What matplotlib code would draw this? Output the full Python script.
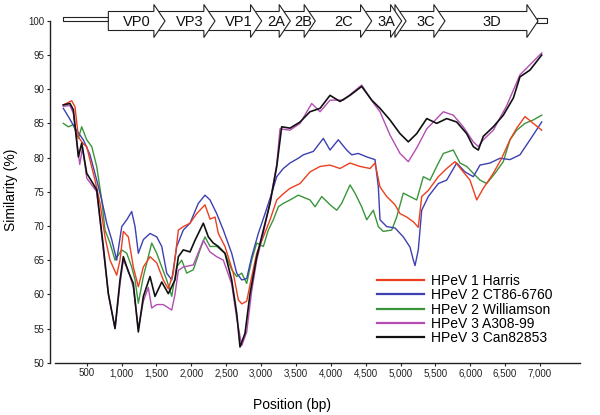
import matplotlib
matplotlib.use('Agg')
import matplotlib.pyplot as plt
from matplotlib.patches import Polygon
from matplotlib.lines import Line2D
from matplotlib.ticker import FuncFormatter

plt.rcParams['font.family'] = ['Liberation Sans', 'DejaVu Sans']

# ---------------- data ----------------
harris_x = [164, 285, 332, 380, 451, 500, 547, 619, 691, 762, 834, 930, 977, 1025, 1097, 1168, 1240, 1312,
            1408, 1504, 1598, 1670, 1742, 1814, 1885, 1981, 2077, 2196, 2268, 2340, 2387, 2483, 2602, 2674,
            2723, 2794, 2866, 2938, 3033, 3129, 3225, 3319, 3415, 3559, 3702, 3846, 3989, 4132, 4276, 4419,
            4563, 4634, 4706, 4802, 4921, 4993, 5089, 5184, 5255, 5304, 5399, 5542, 5662, 5781, 5900, 5996,
            6093, 6187, 6331, 6451, 6570, 6666, 6785, 6904, 7025]
harris_y = [87.7, 88.3, 87.4, 83.0, 82.0, 81.6, 79.6, 76.7, 73.3, 68.4, 65.0, 62.8, 65.0, 69.2, 68.4, 64.0, 61.1, 64.0,
            65.5, 64.6, 62.1, 60.8, 63.1, 69.4, 69.9, 70.4, 71.8, 73.1, 71.0, 71.3, 68.9, 67.0, 63.1, 59.2,
            58.6, 59.0, 62.6, 66.0, 68.4, 70.9, 73.8, 74.7, 75.5, 76.2, 77.9, 78.7, 78.9, 78.4, 79.2, 78.7,
            78.4, 79.2, 75.7, 74.3, 73.1, 71.8, 71.3, 70.6, 69.8, 74.3, 75.2, 77.2, 78.4, 79.4, 77.9, 76.7,
            73.8, 75.5, 77.7, 79.9, 82.6, 84.3, 86.0, 85.0, 84.0]

ct86_x = [164, 236, 332, 451, 547, 643, 715, 787, 858, 930, 1002, 1074, 1145, 1193, 1240, 1312, 1408, 1504,
          1576, 1647, 1719, 1791, 1885, 1981, 2100, 2196, 2268, 2364, 2459, 2579, 2651, 2723, 2794, 2866,
          2961, 3057, 3153, 3225, 3319, 3415, 3534, 3606, 3750, 3893, 3989, 4108, 4228, 4300, 4395, 4515,
          4634, 4682, 4706, 4802, 4921, 5040, 5136, 5184, 5208, 5255, 5304, 5399, 5542, 5662, 5806, 5925,
          6044, 6140, 6283, 6427, 6570, 6713, 6857, 7025]
ct86_y = [87.2, 86.0, 84.3, 82.6, 80.4, 76.7, 73.8, 70.4, 68.0, 65.0, 69.9, 70.9, 72.1, 69.9, 66.0, 68.0, 68.9, 68.4,
          67.0, 63.1, 62.1, 67.0, 69.4, 70.4, 73.3, 74.5, 73.8, 71.8, 69.4, 66.0, 63.1, 62.1, 62.3, 65.5,
          68.9, 71.8, 74.8, 77.2, 78.4, 79.2, 79.9, 80.4, 80.9, 82.8, 81.1, 82.6, 81.1, 80.4, 80.6, 80.1,
          79.7, 75.7, 70.9, 69.9, 69.7, 68.4, 66.9, 65.0, 64.2, 66.5, 72.3, 74.3, 76.2, 76.7, 79.2, 77.9,
          77.2, 78.9, 79.2, 79.9, 79.7, 80.4, 82.6, 85.2]

will_x = [164, 236, 308, 380, 428, 500, 572, 643, 715, 762, 834, 906, 1002, 1074, 1145, 1193, 1240, 1312,
          1383, 1432, 1504, 1576, 1647, 1719, 1791, 1862, 1934, 2029, 2125, 2196, 2268, 2364, 2483, 2579,
          2651, 2723, 2794, 2866, 2938, 3033, 3104, 3176, 3248, 3319, 3415, 3534, 3702, 3774, 3870, 3989,
          4085, 4156, 4276, 4347, 4443, 4515, 4610, 4682, 4753, 4874, 4945, 5040, 5136, 5232, 5327, 5423,
          5519, 5614, 5757, 5853, 5949, 6044, 6140, 6236, 6355, 6474, 6570, 6666, 6785, 6904, 7025]
will_y = [85.0, 84.5, 84.8, 82.8, 84.5, 82.6, 81.6, 78.7, 73.8, 69.4, 67.5, 65.0, 66.5, 66.0, 64.0, 62.1, 58.7, 62.6,
          65.5, 67.5, 66.0, 64.0, 62.1, 59.7, 64.0, 65.0, 63.1, 63.6, 66.5, 68.4, 67.0, 67.0, 66.0, 63.6,
          62.6, 63.1, 61.6, 65.0, 67.5, 67.0, 69.4, 70.9, 72.8, 73.3, 73.8, 74.5, 73.8, 72.8, 74.3, 73.1,
          72.3, 73.3, 76.0, 74.8, 72.8, 70.9, 72.3, 69.9, 69.2, 69.4, 71.3, 74.8, 74.3, 73.8, 77.2, 76.7,
          78.7, 80.6, 81.1, 79.2, 78.7, 77.7, 76.7, 76.2, 77.7, 79.4, 82.6, 84.0, 85.0, 85.5, 86.2]

a308_x = [164, 260, 308, 400, 440, 500, 643, 738, 810, 906, 977, 1025, 1097, 1168, 1240, 1312, 1383, 1432,
          1504, 1598, 1719, 1766, 1814, 1885, 2029, 2172, 2268, 2364, 2459, 2579, 2651, 2723, 2794, 2866,
          2938, 3033, 3129, 3225, 3272, 3415, 3559, 3726, 3846, 3989, 4180, 4443, 4610, 4706, 4849, 4993,
          5112, 5232, 5376, 5519, 5614, 5757, 5900, 6044, 6116, 6187, 6331, 6523, 6713, 7025]
a308_y = [87.5, 87.6, 86.5, 79.0, 81.5, 77.0, 75.0, 66.5, 60.0, 55.0, 61.5, 65.0, 63.5, 61.0, 55.0, 59.0, 61.0, 58.0,
          58.5, 58.5, 57.7, 60.0, 63.5, 64.0, 64.3, 67.9, 66.2, 65.5, 65.0, 61.5, 56.5, 52.5, 54.5, 60.5,
          65.0, 69.0, 73.5, 79.0, 84.2, 84.0, 85.0, 87.9, 86.7, 88.4, 88.4, 90.6, 88.0, 86.7, 83.3, 80.6,
          79.4, 81.4, 84.2, 85.7, 86.7, 86.2, 84.5, 82.3, 81.6, 82.6, 84.0, 87.6, 92.1, 95.3]

can_x = [164, 260, 308, 380, 428, 500, 643, 738, 810, 906, 977, 1025, 1097, 1168, 1240, 1312, 1408, 1479,
         1576, 1670, 1766, 1814, 1885, 1981, 2053, 2172, 2244, 2315, 2387, 2483, 2579, 2651, 2698, 2770,
         2842, 2938, 3033, 3129, 3225, 3296, 3415, 3559, 3702, 3846, 3989, 4132, 4276, 4443, 4587, 4706,
         4849, 4993, 5112, 5232, 5376, 5519, 5662, 5806, 5949, 6044, 6116, 6187, 6331, 6474, 6618, 6713,
         6857, 7025]
can_y = [87.7, 87.9, 87.0, 80.1, 82.1, 77.7, 75.3, 67.0, 60.1, 55.0, 62.1, 65.5, 63.3, 61.6, 54.5, 59.7, 62.6, 59.7,
         61.8, 60.1, 62.1, 65.5, 66.5, 66.2, 67.9, 70.4, 68.4, 67.5, 67.0, 66.0, 62.1, 57.2, 52.3, 54.3,
         60.1, 65.5, 69.4, 73.3, 78.7, 84.5, 84.3, 85.2, 86.7, 87.2, 89.1, 88.2, 89.1, 90.4, 88.4, 87.2,
         85.5, 83.5, 82.3, 83.5, 85.7, 85.0, 85.7, 85.2, 83.5, 81.6, 81.1, 83.1, 84.5, 86.2, 88.7, 91.8,
         92.8, 95.0]

series_labels = ['HPeV 1 Harris', 'HPeV 2 CT86-6760', 'HPeV 2 Williamson', 'HPeV 3 A308-99', 'HPeV 3 Can82853']

x_ticks = [500, 1000, 1500, 2000, 2500, 3000, 3500, 4000, 4500, 5000, 5500, 6000, 6500, 7000]
y_ticks = [50, 55, 60, 65, 70, 75, 80, 85, 90, 95, 100]

gene_names = ['VP0', 'VP3', 'VP1', '2A', '2B', '2C', '3A', '3B', '3C', '3D']
gene_ends = [1623, 2340, 3009, 3420, 3778, 4587, 5017, 5080, 5638, 6972]
utr5 = (164, 810)
utr3_end = 7096

# ---------------- figure ----------------
W, H = 600, 415
fig = plt.figure(figsize=(W / 100, H / 100), dpi=100)

ax = fig.add_axes([55 / W, 1 - 362.7 / H, 525 / W, (362.7 - 20.8) / H])
ax.set_xlim(45, 7574)
ax.set_ylim(50, 100)

colors = {'red': '#ec3f1f', 'blue': '#3d40b0', 'green': '#3a953a', 'mag': '#b34db3', 'black': '#111111'}
ax.plot(will_x, will_y, color=colors['green'], lw=1.0, zorder=2)
ax.plot(ct86_x, ct86_y, color=colors['blue'], lw=1.0, zorder=3)
ax.plot(harris_x, harris_y, color=colors['red'], lw=1.0, zorder=4)
ax.plot(a308_x, a308_y, color=colors['mag'], lw=1.0, zorder=5)
ax.plot(can_x, can_y, color=colors['black'], lw=1.2, zorder=6)

for s in ['top', 'right']:
    ax.spines[s].set_visible(False)
ax.spines['left'].set_position(('outward', 3.6))
ax.spines['left'].set_bounds(50, 100)
for s in ['left', 'bottom']:
    ax.spines[s].set_linewidth(1.0)
    ax.spines[s].set_color('#222222')

ax.set_xticks(x_ticks)
ax.xaxis.set_major_formatter(FuncFormatter(lambda v, p: f'{int(v):,}'))
ax.set_yticks(y_ticks)
ax.tick_params(axis='both', direction='out', length=2.5, width=0.8, labelsize=7, pad=1.5, colors='#222222')

ax.set_xlabel('Position (bp)', fontsize=10)
ax.xaxis.set_label_coords((292 - 55) / 525, -(398 - 362.7) / (362.7 - 20.8))
ax.set_ylabel('Similarity (%)', fontsize=10)
ax.yaxis.set_label_coords((18 - 55) / 525, (362.7 - 190) / (362.7 - 20.8))

handles = [Line2D([], [], color=c, lw=1.6) for c in
           [colors['red'], colors['blue'], colors['green'], colors['mag'], colors['black']]]
ax.legend(handles, series_labels, loc='upper left', bbox_to_anchor=(377 / W, 1 - 274 / H),
          bbox_transform=fig.transFigure, frameon=False, fontsize=10, handlelength=3.4,
          handletextpad=0.5, labelspacing=0.02, borderpad=0, borderaxespad=0)

# ---------------- genome map ----------------
gm = fig.add_axes([55 / W, 1 - 40 / H, 525 / W, 40 / H])
gm.set_xlim(ax.get_xlim())
gm.set_ylim(40, 0)
gm.axis('off')

yc = 21.0
rh = 9.5
hh = 16.5
head = 160

gm.add_patch(Polygon([(utr5[0], 17), (utr5[1], 17), (utr5[1], 21.5), (utr5[0], 21.5)],
                     closed=True, facecolor='white', edgecolor='#222222', lw=0.8, zorder=1))
gm.add_patch(Polygon([(gene_ends[-1] - 20, 18), (utr3_end, 18), (utr3_end, 23), (gene_ends[-1] - 20, 23)],
                     closed=True, facecolor='white', edgecolor='#222222', lw=0.8, zorder=1))

n = len(gene_names)
for i, (name, tip) in enumerate(zip(gene_names, gene_ends)):
    start = utr5[1] if i == 0 else gene_ends[i - 1] - head
    pts = [(start, yc - rh), (tip - head, yc - rh), (tip - head, yc - hh), (tip, yc),
           (tip - head, yc + hh), (tip - head, yc + rh), (start, yc + rh)]
    gm.add_patch(Polygon(pts, closed=True, facecolor='white', edgecolor='#222222', lw=0.8,
                         zorder=10 + n - i))
    if name != '3B':
        left = utr5[1] if i == 0 else gene_ends[i - 1]
        gm.text((left + tip) / 2, yc + 0.5, name, ha='center', va='center', fontsize=10.5,
                color='#111111', zorder=50)

fig.savefig('out.png', dpi=100)
